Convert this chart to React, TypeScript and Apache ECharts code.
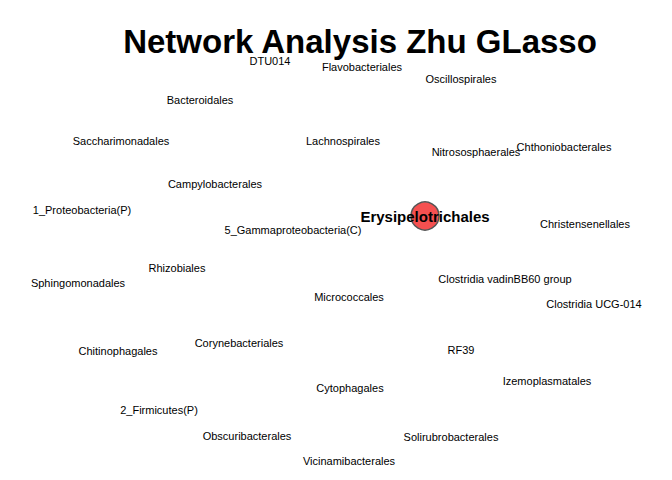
import React, { useEffect, useRef } from 'react';
import * as echarts from 'echarts';

// node names and layout positions (layout units = pixels of the reference)
const names = [
  'DTU014', 'Flavobacteriales', 'Oscillospirales', 'Bacteroidales', 'Saccharimonadales',
  'Lachnospirales', 'Nitrososphaerales', 'Chthoniobacterales', 'Campylobacterales',
  '1_Proteobacteria(P)', 'Erysipelotrichales', '5_Gammaproteobacteria(C)', 'Christensenellales',
  'Rhizobiales', 'Sphingomonadales', 'Clostridia vadinBB60 group', 'Micrococcales',
  'Clostridia UCG-014', 'Chitinophagales', 'Corynebacteriales', 'RF39', 'Izemoplasmatales',
  'Cytophagales', '2_Firmicutes(P)', 'Obscuribacterales', 'Solirubrobacterales', 'Vicinamibacterales',
];
const xs = [270, 362, 461, 200, 121, 343, 476, 564, 215, 82, 425, 293, 585, 177, 78, 505, 349, 594, 118, 239, 461, 547, 350, 159, 247, 451, 349];
const ys = [61, 67, 79, 100, 141, 141, 152, 147, 184, 210, 216, 230, 224, 268, 283, 279, 297, 304, 351, 343, 350, 381, 388, 410, 436, 437, 461];
const highlighted = ['Erysipelotrichales'];

export default function App() {
  const ref = useRef<HTMLDivElement>(null);

  useEffect(() => {
    document.body.style.margin = '0';
    if (!ref.current) return;
    const chart = echarts.init(ref.current, undefined, { renderer: 'svg' });
    chart.setOption({
      animation: false,
      backgroundColor: '#fff',
      title: {
        text: 'Network Analysis Zhu GLasso',
        left: 355,
        top: 20,
        textAlign: 'center',
        textStyle: { fontFamily: 'Liberation Sans', fontSize: 33, fontWeight: 'bold', color: '#000' },
      },
      grid: { left: 0, right: 0, top: 0, bottom: 0 },
      xAxis: { type: 'value', min: 0, max: 672, show: false },
      yAxis: { type: 'value', min: 0, max: 480, inverse: true, show: false },
      series: [
        {
          type: 'scatter',
          data: names.map((n, i) => {
            const hl = highlighted.includes(n);
            return {
              name: n,
              value: [xs[i], ys[i]],
              symbolSize: hl ? 28 : 0,
              itemStyle: { color: '#f55050', borderColor: '#555', borderWidth: 1.5, opacity: 1 },
              label: {
                show: true,
                position: 'inside',
                formatter: n,
                color: '#000',
                fontFamily: 'Liberation Sans',
                fontSize: hl ? 15 : 11,
                fontWeight: hl ? 'bold' : 'normal',
              },
              z: hl ? 1 : 2,
            };
          }),
        },
      ],
    });
    return () => chart.dispose();
  }, []);

  return <div ref={ref} style={{ width: 672, height: 480 }} />;
}
